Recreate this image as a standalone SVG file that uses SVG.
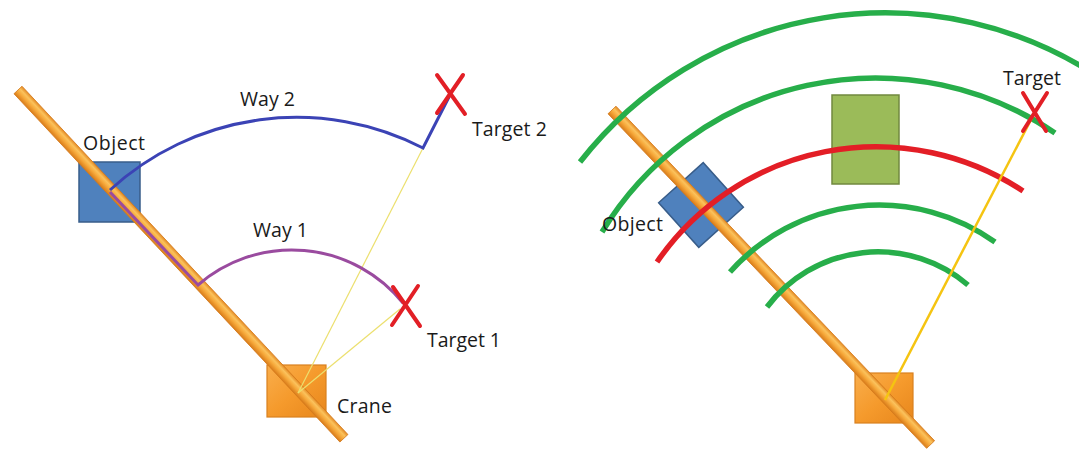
<svg xmlns="http://www.w3.org/2000/svg" width="1079" height="452" viewBox="0 0 1079 452">
  <defs>
    <linearGradient id="boomGrad" x1="0" y1="0" x2="0" y2="1">
      <stop offset="0" stop-color="#e48a24"/>
      <stop offset="0.3" stop-color="#fbc25c"/>
      <stop offset="0.6" stop-color="#f6a83a"/>
      <stop offset="1" stop-color="#d97c1a"/>
    </linearGradient>
    <linearGradient id="craneGrad" x1="0" y1="0" x2="1" y2="1">
      <stop offset="0" stop-color="#f9ae4c"/>
      <stop offset="0.5" stop-color="#f59a2c"/>
      <stop offset="1" stop-color="#e7861c"/>
    </linearGradient>
    <style>
      .label { font-family: "Open Sans", "Liberation Sans", Arial, sans-serif; font-size: 19.5px; fill: #1a1a1a; }
      .boom { fill: url(#boomGrad); stroke: #d47a1c; stroke-width: 0.8; }
      .crane { fill: url(#craneGrad); stroke: #d9801f; stroke-width: 1.2; }
      .obj { fill: #4f81bd; stroke: #385d8a; stroke-width: 1.5; }
      .cross { stroke: #e21f26; stroke-width: 4; stroke-linecap: round; fill: none; }
      .ring { fill: none; stroke-width: 5.5; stroke-linecap: butt; }
      .green { stroke: #27ae4a; }
      .red { stroke: #e31e26; }
    </style>
  </defs>

  <!-- Left view: two paths from object to targets -->
  <g id="left-crane"><rect class="crane" x="267" y="365" width="59" height="52"/></g>
  <g id="left-object"><rect class="obj" x="79" y="162" width="61" height="60"/></g>
  <g id="left-boom"><rect class="boom" x="0" y="-5.5" width="477" height="11" transform="translate(18,90) rotate(46.9)"/></g>

  <g id="left-connectors" fill="none">
    <line x1="298" y1="393" x2="423" y2="148" stroke="#ece06e" stroke-width="1.2"/>
    <line x1="298" y1="393" x2="400" y2="309" stroke="#ece06e" stroke-width="1.2"/>
    <path d="M110,190 A276,276 0 0 1 423,148 L450,95" stroke="#3b43b5" stroke-width="3"/>
    <path d="M110,192 L198,285 A143,143 0 0 1 403,303" stroke="#9a4b9f" stroke-width="3"/>
  </g>

  <g id="target-2">
    <path class="cross" d="M437,75 L465,114 M463,75 L437,113"/>
    <text class="label" x="472" y="136" textLength="75">Target 2</text>
  </g>
  <g id="target-1">
    <path class="cross" d="M393,287 L420,326 M418,286 L392,325"/>
    <text class="label" x="427" y="347" textLength="74">Target 1</text>
  </g>
  <g id="left-labels">
    <text class="label" x="83" y="150" textLength="62">Object</text>
    <text class="label" x="240" y="106" textLength="55">Way 2</text>
    <text class="label" x="253" y="237" textLength="55">Way 1</text>
    <text class="label" x="337" y="413" textLength="55">Crane</text>
  </g>

  <!-- Right view: reach rings around the crane -->
  <g id="right-crane"><rect class="crane" x="855" y="373" width="58" height="50"/></g>
  <g id="obstacle"><rect x="832" y="95" width="67" height="89" fill="#9bbb59" stroke="#71893f" stroke-width="1.5"/></g>
  <g id="right-object"><rect class="obj" x="-30" y="-30" width="60" height="60" transform="translate(701,205) rotate(48)"/></g>
  <g id="right-boom"><rect class="boom" x="0" y="-5.5" width="462" height="11" transform="translate(612,110) rotate(46.4)"/></g>

  <g id="right-connectors">
    <path class="ring green" d="M580,162 A387,387 0 0 1 1100,78"/>
    <path class="ring green" d="M602,232 A320,320 0 0 1 1055,133"/>
    <path class="ring red" d="M657,262 A266,266 0 0 1 1023,191"/>
    <path class="ring green" d="M730,272 A200,200 0 0 1 995,242"/>
    <path class="ring green" d="M767,307 A139,139 0 0 1 968,285"/>
    <line x1="885" y1="400" x2="1035" y2="112" stroke="#f5c411" stroke-width="2.5"/>
  </g>

  <g id="right-target">
    <path class="cross" d="M1023,93 L1046,131 M1047,93 L1023,131"/>
    <text class="label" x="1003" y="85" textLength="58">Target</text>
  </g>
  <g id="right-labels">
    <text class="label" x="602" y="231" textLength="61">Object</text>
  </g>
</svg>
